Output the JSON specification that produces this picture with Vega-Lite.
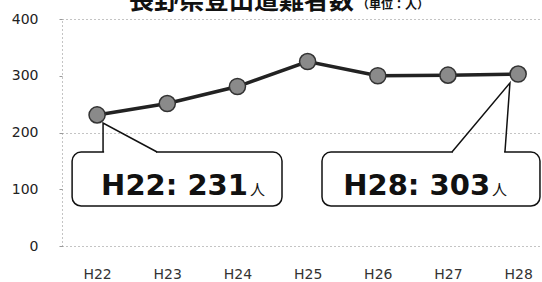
{
  "$schema": "https://vega.github.io/schema/vega-lite/v6.json",
  "width": 480,
  "height": 227,
  "autosize": "none",
  "padding": {"left": 62, "top": 19, "right": 0, "bottom": 36},
  "background": "white",
  "config": {"view": {"stroke": null}, "font": "DejaVu Sans"},
  "datasets": {
    "series": [
      {"year": "H22", "x": 22, "y": 231},
      {"year": "H23", "x": 23, "y": 251},
      {"year": "H24", "x": 24, "y": 281},
      {"year": "H25", "x": 25, "y": 325},
      {"year": "H26", "x": 26, "y": 300},
      {"year": "H27", "x": 27, "y": 301},
      {"year": "H28", "x": 28, "y": 303}
    ],
    "boxes": [
      {"x": 21.644, "x2": 24.635, "y": 70.5, "y2": 165.6},
      {"x": 25.205, "x2": 28.311, "y": 70.5, "y2": 165.6}
    ],
    "gaps": [
      {"x": 22.1, "x2": 22.84, "y": 165.6},
      {"x": 27.07, "x2": 27.8, "y": 165.6}
    ],
    "pointers": [
      {"g": 1, "o": 1, "x": 22.085, "y": 165.6},
      {"g": 1, "o": 2, "x": 22.085, "y": 216.7},
      {"g": 1, "o": 3, "x": 22.855, "y": 165.6},
      {"g": 2, "o": 1, "x": 27.057, "y": 165.6},
      {"g": 2, "o": 2, "x": 27.883, "y": 287.2},
      {"g": 2, "o": 3, "x": 27.812, "y": 165.6}
    ],
    "callouts": [
      {"x": 24.15, "y": 90, "label": "H22: 231", "unit": "人"},
      {"x": 27.6, "y": 90, "label": "H28: 303", "unit": "人"}
    ],
    "title": [
      {"x": 25.66, "y": 418, "main": "長野県登山遭難者数", "unit": "（単位：人）"}
    ]
  },
  "encoding": {
    "x": {
      "field": "x",
      "type": "quantitative",
      "scale": {"domain": [21.5, 28.34], "nice": false, "zero": false},
      "axis": {
        "title": null,
        "values": [22, 23, 24, 25, 26, 27, 28],
        "labelExpr": "'H' + datum.value",
        "grid": false,
        "domain": false,
        "ticks": false,
        "labelFlush": false,
        "labelOverlap": false,
        "labelPadding": 21,
        "labelFontSize": 14,
        "labelColor": "#333",
        "labelFont": "DejaVu Sans"
      }
    },
    "y": {
      "field": "y",
      "type": "quantitative",
      "scale": {"domain": [0, 400], "nice": false, "zero": true},
      "axis": {
        "title": null,
        "values": [0, 100, 200, 300, 400],
        "grid": true,
        "gridDash": [1, 3],
        "gridColor": "#888",
        "gridOpacity": {"condition": {"test": "datum.value % 200 === 0", "value": 1}, "value": 0},
        "domain": true,
        "domainDash": [1, 3],
        "domainColor": "#888",
        "ticks": true,
        "tickSize": 3,
        "tickColor": "#999",
        "labelPadding": 21,
        "labelFontSize": 14,
        "labelColor": "#222",
        "labelFont": "DejaVu Sans"
      }
    }
  },
  "layer": [
    {
      "data": {"name": "boxes"},
      "mark": {"type": "rect", "fill": "white", "stroke": "#111", "strokeWidth": 1.5, "cornerRadius": 9},
      "encoding": {"x2": {"field": "x2"}, "y2": {"field": "y2"}}
    },
    {
      "data": {"name": "gaps"},
      "mark": {"type": "rule", "color": "white", "strokeWidth": 4},
      "encoding": {"x2": {"field": "x2"}}
    },
    {
      "data": {"name": "pointers"},
      "mark": {"type": "line", "color": "#111", "strokeWidth": 1.5},
      "encoding": {
        "detail": {"field": "g", "type": "nominal"},
        "order": {"field": "o", "type": "quantitative"}
      }
    },
    {
      "data": {"name": "series"},
      "mark": {"type": "line", "color": "#222", "strokeWidth": 3.5},
      "encoding": {}
    },
    {
      "data": {"name": "series"},
      "mark": {"type": "circle", "size": 260, "color": "#8a8a8a", "opacity": 1, "stroke": "#333", "strokeWidth": 1.5},
      "encoding": {}
    },
    {
      "data": {"name": "callouts"},
      "mark": {"type": "text", "align": "right", "baseline": "alphabetic", "font": "DejaVu Sans", "fontWeight": "bold", "fontSize": 29, "color": "#111"},
      "encoding": {"text": {"field": "label"}}
    },
    {
      "data": {"name": "callouts"},
      "mark": {"type": "text", "align": "left", "baseline": "alphabetic", "dx": 2, "font": "Noto Sans CJK JP", "fontSize": 15, "color": "#111"},
      "encoding": {"text": {"field": "unit"}}
    },
    {
      "data": {"name": "title"},
      "mark": {"type": "text", "align": "right", "baseline": "alphabetic", "font": "Noto Sans CJK JP", "fontWeight": "bold", "fontSize": 25, "color": "#111"},
      "encoding": {"text": {"field": "main"}}
    },
    {
      "data": {"name": "title"},
      "mark": {"type": "text", "align": "left", "baseline": "alphabetic", "dx": 3, "font": "Noto Sans CJK JP", "fontWeight": "bold", "fontSize": 12, "color": "#111"},
      "encoding": {"text": {"field": "unit"}}
    }
  ]
}
